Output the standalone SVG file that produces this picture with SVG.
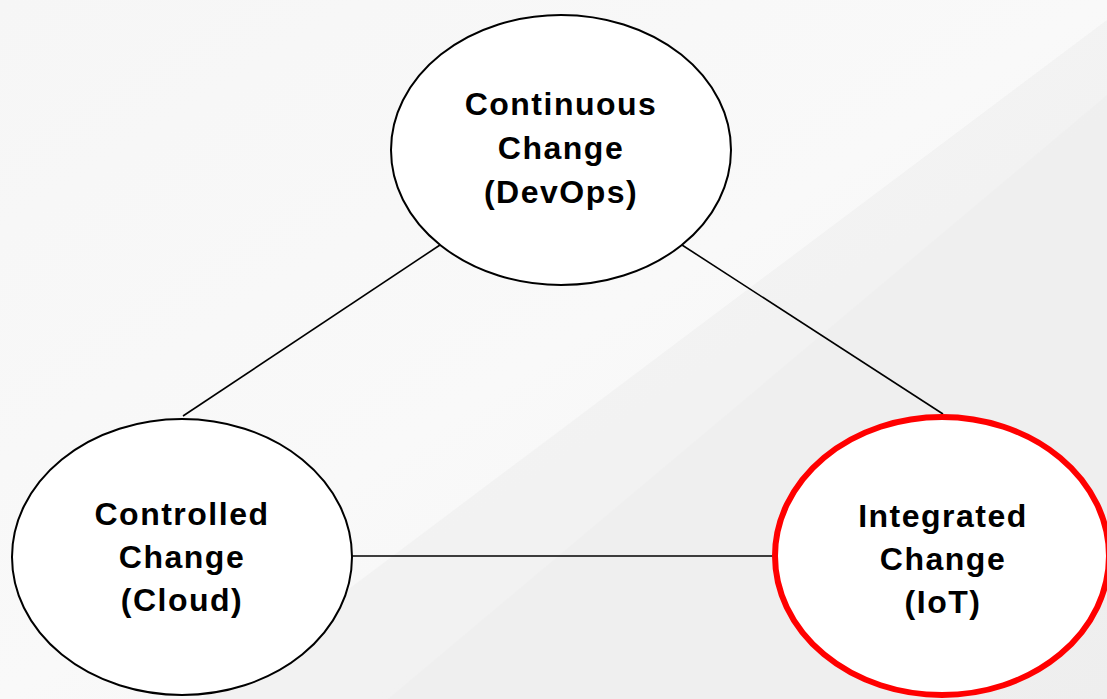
<svg xmlns="http://www.w3.org/2000/svg" width="1107" height="699" viewBox="0 0 1107 699">
<defs>
<linearGradient id="bg" x1="0" y1="0" x2="1" y2="1">
<stop offset="0" stop-color="#f6f6f6"/>
<stop offset="0.5" stop-color="#f9f9f9"/>
<stop offset="1" stop-color="#f3f3f3"/>
</linearGradient>
<style>
.node{fill:#ffffff;stroke:#000000;stroke-width:2}
.hl{stroke:#ff0000;stroke-width:6}
.lbl{font-family:"Liberation Sans",Arial,sans-serif;font-weight:bold;font-size:32px;letter-spacing:1.5px;fill:#000000;text-anchor:middle}
.conn{stroke:#000000;stroke-width:1.6;fill:none}
</style>
</defs>
<rect width="1107" height="699" fill="url(#bg)"/>
<polygon points="1107,20 202,699 1107,699" fill="#efefef" opacity="0.6"/>
<polygon points="1107,95 388,699 1107,699" fill="#ececec" opacity="0.35"/>
<g id="connectors">
<line class="conn" x1="440" y1="245" x2="183" y2="416"/>
<line class="conn" x1="682" y1="245" x2="943" y2="414"/>
<line class="conn" x1="352" y1="556" x2="774" y2="556"/>
</g>
<g id="devops">
<ellipse class="node" cx="561" cy="150" rx="170" ry="135"/>
<text class="lbl" x="561" y="115">Continuous</text>
<text class="lbl" x="561" y="159">Change</text>
<text class="lbl" x="561" y="203">(DevOps)</text>
</g>
<g id="cloud">
<ellipse class="node" cx="182" cy="557" rx="170" ry="138"/>
<text class="lbl" x="182" y="525">Controlled</text>
<text class="lbl" x="182" y="568">Change</text>
<text class="lbl" x="182" y="611">(Cloud)</text>
</g>
<g id="iot">
<ellipse class="node hl" cx="942" cy="556" rx="167" ry="139"/>
<text class="lbl" x="943" y="527">Integrated</text>
<text class="lbl" x="943" y="570">Change</text>
<text class="lbl" x="943" y="613">(IoT)</text>
</g>
</svg>
